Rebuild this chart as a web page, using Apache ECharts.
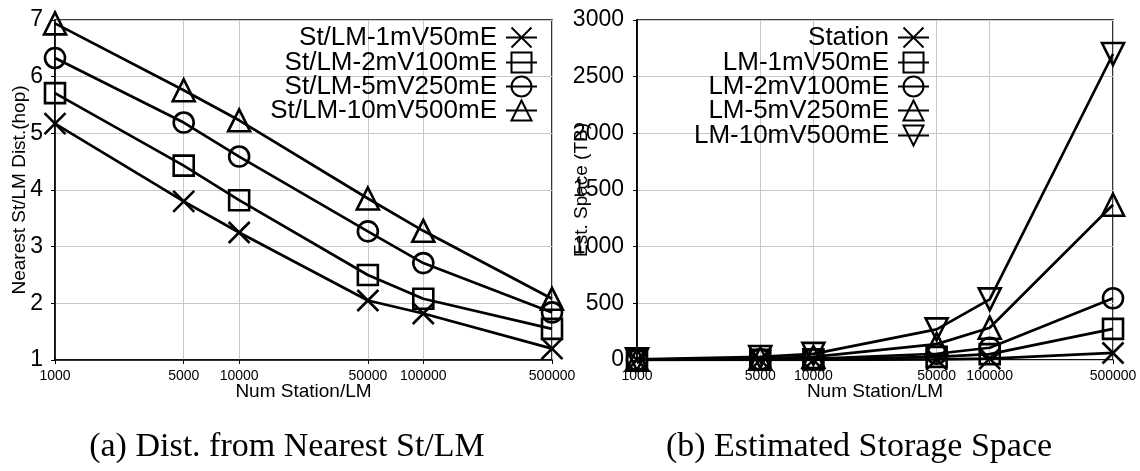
<!DOCTYPE html>
<html>
<head>
<meta charset="utf-8">
<script src="https://cdn.jsdelivr.net/npm/echarts@6/dist/echarts.min.js"></script>
<style>
html,body{margin:0;padding:0;background:#fff;}
#chart{width:1140px;height:471px;}
</style>
</head>
<body>
<div id="chart"></div>
<script>
// ---- data ----
var xValues = [1000, 5000, 10000, 50000, 100000, 500000];
var xTickLabels = [1000, 5000, 10000, 50000, 100000, 500000];

var distNames = ['St/LM-1mV50mE', 'St/LM-2mV100mE', 'St/LM-5mV250mE', 'St/LM-10mV500mE'];
var dist1 = [5.17, 3.80, 3.25, 2.05, 1.82, 1.20];
var dist2 = [5.71, 4.43, 3.82, 2.50, 2.08, 1.55];
var dist5 = [6.33, 5.19, 4.59, 3.27, 2.71, 1.84];
var dist10 = [6.94, 5.76, 5.23, 3.85, 3.28, 2.08];

var spaceNames = ['Station', 'LM-1mV50mE', 'LM-2mV100mE', 'LM-5mV250mE', 'LM-10mV500mE'];
var spaceStation = [0.1, 0.6, 1.2, 6, 12, 62];
var spaceLM1 = [0.6, 2.8, 5.5, 28, 52, 275];
var spaceLM2 = [1.1, 5.5, 11, 55, 108, 545];
var spaceLM5 = [2.7, 14, 27, 140, 285, 1370];
var spaceLM10 = [5.4, 27, 54, 270, 535, 2700];

var leftYTicks = [1, 2, 3, 4, 5, 6, 7];
var rightYTicks = [0, 500, 1000, 1500, 2000, 2500, 3000];

var captionA = '(a) Dist. from Nearest St/LM';
var captionB = '(b) Estimated Storage Space';

// ---- styles ----
var SYM = {
  cross: 'path://M0,0L10,10M10,0L0,10',
  square: 'path://M0,0L10,0L10,10L0,10Z',
  circle: 'path://M0,5A5,5,0,1,1,10,5A5,5,0,1,1,0,5Z',
  triangle: 'path://M5,0L10,9L0,9Z',
  itriangle: 'path://M0,0L10,0L5,9Z'
};
var SANS = 'Liberation Sans, Arial, Helvetica, sans-serif';
var SERIF = '34px "Liberation Serif", "Times New Roman", serif';

function plainNum(v) { return String(Math.round(v)); }

function pairs(ys) {
  return xValues.map(function (x, i) { return [x, ys[i]]; });
}
function mkSeries(name, ys, sym, size, gi) {
  return {
    name: name,
    type: 'line',
    xAxisIndex: gi,
    yAxisIndex: gi,
    data: pairs(ys),
    symbol: sym,
    symbolSize: size,
    showAllSymbol: true,
    lineStyle: { color: '#000', width: 2.7 },
    itemStyle: { color: 'none', borderColor: '#000', borderWidth: 2.6 },
    emphasis: { disabled: true },
    animation: false,
    z: 3
  };
}

function xAxis(gi) {
  return {
    type: 'log',
    gridIndex: gi,
    min: 1000,
    max: 500000,
    logBase: 10,
    name: 'Num Station/LM',
    nameLocation: 'middle',
    nameGap: 22,
    nameMoveOverlap: false,
    nameTextStyle: { fontFamily: SANS, fontSize: 19, color: '#000' },
    axisLine: { show: true, lineStyle: { color: '#000', width: 1.6 } },
    axisTick: { show: true, length: 4, inside: false, lineStyle: { color: '#000' }, customValues: xTickLabels },
    axisLabel: { fontFamily: SANS, fontSize: 14, color: '#000', margin: 9, customValues: xTickLabels, hideOverlap: false, showMinLabel: true, showMaxLabel: true, formatter: plainNum },
    splitLine: { show: true, lineStyle: { color: '#c8c8c8', width: 1 } },
    minorSplitLine: { show: false }
  };
}

var option = {
  backgroundColor: '#fff',
  animation: false,
  grid: [
    { left: 55, top: 20, width: 497, height: 340, show: true, borderColor: '#000', borderWidth: 1.6, backgroundColor: 'transparent' },
    { left: 637, top: 20, width: 476, height: 340, show: true, borderColor: '#000', borderWidth: 1.6, backgroundColor: 'transparent' }
  ],
  xAxis: [xAxis(0), xAxis(1)],
  yAxis: [
    {
      type: 'value', gridIndex: 0, min: leftYTicks[0], max: leftYTicks[leftYTicks.length - 1], interval: 1,
      name: 'Nearest St/LM Dist.(hop)', nameLocation: 'middle', nameGap: 26, nameMoveOverlap: false,
      nameTextStyle: { fontFamily: SANS, fontSize: 19, color: '#000' },
      axisLine: { show: true, lineStyle: { color: '#000', width: 1.6 } },
      axisTick: { show: true, length: 4, lineStyle: { color: '#000' } },
      axisLabel: { fontFamily: SANS, fontSize: 23, color: '#000', margin: 12, formatter: plainNum },
      splitLine: { show: true, lineStyle: { color: '#c8c8c8', width: 1 } }
    },
    {
      type: 'value', gridIndex: 1, min: rightYTicks[0], max: rightYTicks[rightYTicks.length - 1], interval: 500,
      name: 'Est. Space (TB)', nameLocation: 'middle', nameGap: 46, nameMoveOverlap: false,
      nameTextStyle: { fontFamily: SANS, fontSize: 19, color: '#000' },
      axisLine: { show: true, lineStyle: { color: '#000', width: 1.8 } },
      axisTick: { show: true, length: 4, lineStyle: { color: '#000' } },
      axisLabel: { fontFamily: SANS, fontSize: 23, color: '#000', margin: 13, formatter: plainNum },
      splitLine: { show: true, lineStyle: { color: '#c8c8c8', width: 1 } },
      z: 1
    }
  ],
  legend: [],
  series: [
    mkSeries(distNames[0], dist1, SYM.cross, 21, 0),
    mkSeries(distNames[1], dist2, SYM.square, 20, 0),
    mkSeries(distNames[2], dist5, SYM.circle, 20, 0),
    mkSeries(distNames[3], dist10, SYM.triangle, 22, 0),
    mkSeries(spaceNames[0], spaceStation, SYM.cross, 21, 1),
    mkSeries(spaceNames[1], spaceLM1, SYM.square, 20, 1),
    mkSeries(spaceNames[2], spaceLM2, SYM.circle, 20, 1),
    mkSeries(spaceNames[3], spaceLM5, SYM.triangle, 22, 1),
    mkSeries(spaceNames[4], spaceLM10, SYM.itriangle, 22, 1)
  ],
  graphic: [
    { type: 'text', x: 287, y: 447, style: { text: captionA, font: SERIF, fill: '#000', textAlign: 'center', textVerticalAlign: 'middle' } },
    { type: 'text', x: 859, y: 447, style: { text: captionB, font: SERIF, fill: '#000', textAlign: 'center', textVerticalAlign: 'middle' } }
  ]
};

function addLegend(name, rightPx, centerY) {
  option.legend.push({
    data: [name],
    orient: 'vertical',
    right: rightPx,
    top: centerY - 12.5,
    padding: 0,
    align: 'right',
    itemWidth: 31,
    itemHeight: 25,
    selectedMode: false,
    textStyle: { fontFamily: SANS, fontSize: 26, color: '#000', padding: [0, 4, 0, 0] }
  });
}
var leftRows = [37, 62, 86, 110];
distNames.forEach(function (n, i) { addLegend(n, 1140 - 538, leftRows[i]); });
var rightRows = [37, 62, 86, 110, 135];
spaceNames.forEach(function (n, i) { addLegend(n, 1140 - 930, rightRows[i]); });

var chart = echarts.init(document.getElementById('chart'), null, { renderer: 'canvas' });
chart.setOption(option);
</script>
</body>
</html>
